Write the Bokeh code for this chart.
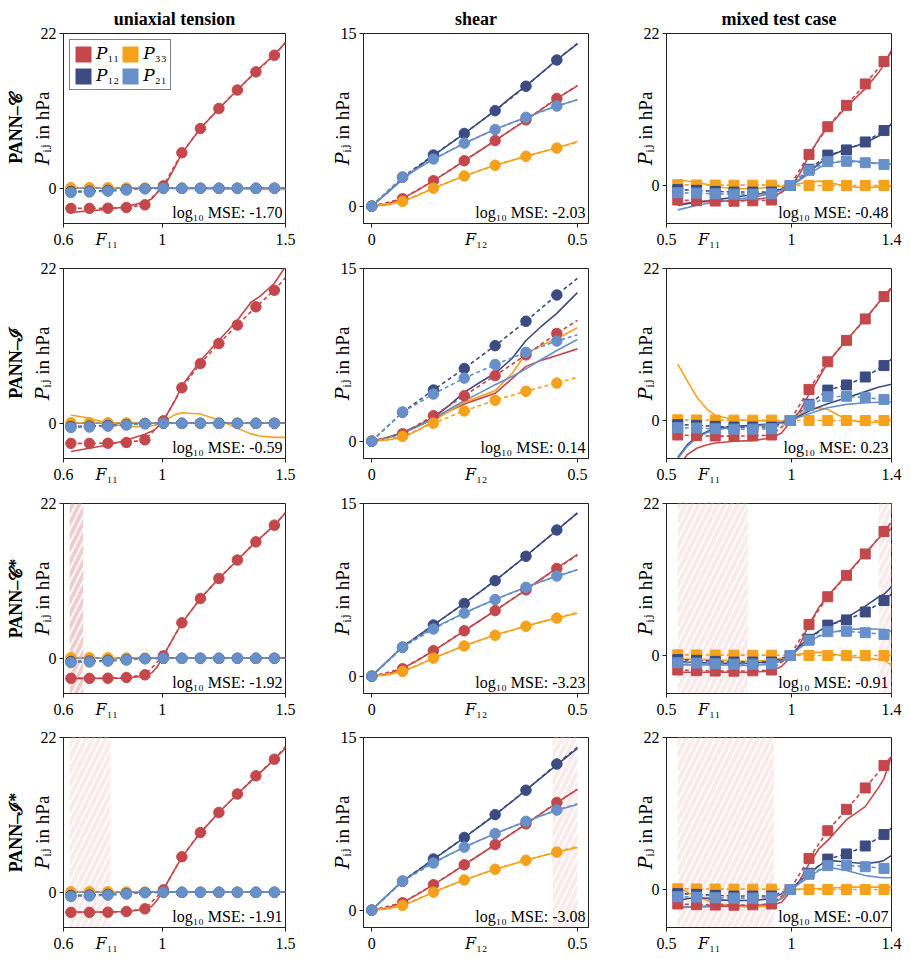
from bokeh.plotting import figure
from bokeh.layouts import gridplot
from bokeh.models import Range1d, FixedTicker, Label, Title, Legend, LegendItem
from bokeh.embed import file_html
from bokeh.resources import INLINE

FONT = "Liberation Serif, DejaVu Serif, serif"
C_P11 = "#c4484b"
C_P33 = "#f6a11b"
C_P12 = "#3c4c82"
C_P21 = "#6790cb"
SERIES_COLORS = [C_P11, C_P33, C_P12, C_P21]
NAN = float("nan")

col_titles = ["uniaxial tension", "shear", "mixed test case"]
row_labels = ["PANN–𝒞", "PANN–ℐ", "PANN–𝒞*", "PANN–ℐ*"]
legend_labels = ["𝑃₁₁", "𝑃₁₂", "𝑃₃₃", "𝑃₂₁"]

# ---------------- uniaxial tension: reference data (markers) ----------------
ut_x = [0.63, 0.705, 0.78, 0.855, 0.93, 1.005, 1.08, 1.155, 1.23, 1.305, 1.38, 1.455]
ut_xend = 1.5
ut_p11 = [-2.85, -2.85, -2.83, -2.72, -2.35, 0.35, 5.05, 8.5, 11.35, 13.97, 16.55, 18.92]
ut_p33 = [0.08, 0.08, 0.07, 0.05, 0.02, 0.0, 0.0, 0.0, 0.0, 0.0, 0.0, 0.0]
ut_p12 = [-0.45, -0.4, -0.3, -0.18, -0.04, 0.0, 0.0, 0.0, 0.0, 0.0, 0.0, 0.0]
ut_p21 = [-0.6, -0.52, -0.4, -0.24, -0.06, 0.0, 0.0, 0.0, 0.0, 0.0, 0.0, 0.0]
ut_ref_end = [20.7, 0.0, 0.0, 0.0]

# uniaxial tension: model predictions
ut_grid = [0.63, 0.705, 0.78, 0.855, 0.93, 0.96, 0.98, 1.0, 1.02, 1.05, 1.08, 1.155, 1.23, 1.305, 1.36, 1.395, 1.455, 1.5]
ut_m1_p11 = [-3.44, -3.2, -2.97, -2.6, -1.95, -1.46, -0.61, 0.1, 1.0, 2.9, 5.0, 8.5, 11.3, 14.0, 15.9, 17.1, 19.0, 20.7]
ut_m1_p33 = [0.05, 0.04, 0.03, 0.02, 0.0, 0.0, 0.0, 0.0, -0.02, -0.05, -0.07, -0.1, -0.12, -0.13, -0.14, -0.15, -0.15, -0.15]
ut_m1_p12 = [0.0, 0.0, 0.0, 0.0, 0.0, 0.0, 0.0, 0.0, 0.0, 0.0, 0.0, 0.0, 0.0, 0.0, 0.0, 0.0, 0.0, 0.0]
ut_m1_p21 = [0.02, 0.02, 0.01, 0.01, 0.0, 0.0, 0.0, 0.0, 0.0, 0.0, 0.0, 0.0, 0.0, 0.0, 0.0, 0.0, 0.0, 0.0]
ut_m2_p11 = [-4.0, -3.55, -3.07, -2.37, -1.56, -1.1, -0.6, 0.1, 1.3, 3.1, 5.3, 8.9, 11.8, 14.65, 17.2, 18.0, 19.9, 22.3]
ut_m2_p33 = [1.18, 0.71, 0.0, -0.47, -0.47, -0.35, -0.2, 0.1, 0.6, 1.2, 1.5, 1.32, 0.47, -0.71, -1.5, -1.8, -2.0, -2.0]
ut_m2_p12 = [0.0, 0.0, 0.0, 0.0, 0.0, 0.0, 0.0, 0.0, 0.0, 0.0, 0.0, 0.0, 0.0, 0.0, 0.0, 0.0, 0.0, 0.0]
ut_m2_p21 = [0.0, 0.0, 0.0, 0.0, 0.0, 0.0, 0.0, 0.0, 0.0, 0.0, 0.0, 0.0, 0.0, 0.0, 0.0, 0.0, 0.0, 0.0]
ut_m3_p11 = [-2.85, -2.85, -2.85, -2.8, -2.55, -2.0, -1.2, 0.0, 1.3, 3.2, 5.0, 8.5, 11.35, 13.95, 15.9, 17.0, 18.92, 20.67]
ut_m3_p33 = [0.02, 0.02, 0.02, 0.01, 0.0, 0.0, 0.0, 0.0, 0.0, 0.0, 0.0, 0.0, 0.0, 0.0, 0.0, 0.0, 0.0, 0.0]
ut_m3_p12 = [0.0, 0.0, 0.0, 0.0, 0.0, 0.0, 0.0, 0.0, 0.0, 0.0, 0.0, 0.0, 0.0, 0.0, 0.0, 0.0, 0.0, 0.0]
ut_m3_p21 = [0.0, 0.0, 0.0, 0.0, 0.0, 0.0, 0.0, 0.0, 0.0, 0.0, 0.0, 0.0, 0.0, 0.0, 0.0, 0.0, 0.0, 0.0]
ut_m4_p11 = [-2.8, -2.8, -2.8, -2.72, -2.45, -1.9, -1.1, 0.05, 1.35, 3.2, 5.0, 8.45, 11.38, 13.96, 15.8, 16.9, 18.9, 20.5]
ut_m4_p33 = [0.02, 0.02, 0.02, 0.01, 0.0, 0.0, 0.0, 0.0, 0.0, 0.0, 0.0, 0.0, 0.0, 0.0, 0.0, 0.0, 0.0, 0.0]
ut_m4_p12 = [0.0, 0.0, 0.0, 0.0, 0.0, 0.0, 0.0, 0.0, 0.0, 0.0, 0.0, 0.0, 0.0, 0.0, 0.0, 0.0, 0.0, 0.0]
ut_m4_p21 = [0.0, 0.0, 0.0, 0.0, 0.0, 0.0, 0.0, 0.0, 0.0, 0.0, 0.0, 0.0, 0.0, 0.0, 0.0, 0.0, 0.0, 0.0]
ut_mse = ["-1.70", "-0.59", "-1.92", "-1.91"]

# ---------------- shear: reference data ----------------
sh_x = [0.0, 0.075, 0.15, 0.225, 0.3, 0.375, 0.45]
sh_xend = 0.5
sh_p11 = [0.0, 0.65, 2.22, 3.95, 5.7, 7.5, 9.36]
sh_p33 = [0.0, 0.42, 1.57, 2.63, 3.56, 4.34, 5.05]
sh_p12 = [0.0, 2.52, 4.45, 6.32, 8.3, 10.42, 12.7]
sh_p21 = [0.0, 2.52, 4.1, 5.48, 6.66, 7.72, 8.7]
sh_ref_end = [10.5, 5.55, 14.15, 9.24]

# shear: model predictions
sh_grid = [0.0, 0.0375, 0.075, 0.1125, 0.15, 0.1875, 0.225, 0.2625, 0.3, 0.34, 0.375, 0.41, 0.45, 0.5]
sh_m1_p11 = [0.0, 0.2, 0.68, 1.4, 2.22, 3.05, 3.95, 4.82, 5.7, 6.65, 7.48, 8.35, 9.35, 10.45]
sh_m1_p33 = [0.0, 0.12, 0.42, 0.95, 1.55, 2.1, 2.62, 3.1, 3.55, 3.98, 4.33, 4.68, 5.05, 5.62]
sh_m1_p12 = [0.0, 1.15, 2.35, 3.4, 4.4, 5.35, 6.3, 7.3, 8.3, 9.5, 10.45, 11.5, 12.7, 14.1]
sh_m1_p21 = [0.0, 1.2, 2.4, 3.3, 4.05, 4.78, 5.45, 6.08, 6.68, 7.25, 7.7, 8.2, 8.7, 9.25]
sh_m2_p11 = [0.0, 0.3, 0.75, 1.3, 1.92, 2.6, 3.23, 3.7, 4.16, 5.4, 6.5, 7.0, 7.45, 8.02]
sh_m2_p33 = [0.0, 0.1, 0.32, 0.95, 1.77, 2.6, 3.37, 3.9, 4.39, 5.84, 7.59, 8.3, 8.9, 9.85]
sh_m2_p12 = [0.0, 0.3, 0.75, 1.35, 2.06, 3.1, 4.24, 5.1, 5.9, 7.15, 8.75, 9.9, 11.1, 12.9]
sh_m2_p21 = [0.0, 0.3, 0.67, 1.3, 1.98, 2.75, 3.52, 4.2, 4.91, 5.6, 6.28, 7.05, 7.88, 8.84]
sh_m3_p11 = [0.0, 0.18, 0.67, 1.4, 2.21, 3.05, 3.95, 4.82, 5.7, 6.65, 7.5, 8.4, 9.39, 10.58]
sh_m3_p33 = [0.0, 0.1, 0.41, 0.95, 1.57, 2.12, 2.65, 3.12, 3.58, 4.0, 4.36, 4.7, 5.06, 5.47]
sh_m3_p12 = [0.0, 1.3, 2.56, 3.5, 4.45, 5.4, 6.34, 7.3, 8.31, 9.45, 10.44, 11.5, 12.67, 14.19]
sh_m3_p21 = [0.0, 1.3, 2.56, 3.45, 4.16, 4.85, 5.49, 6.1, 6.66, 7.25, 7.73, 8.2, 8.69, 9.24]
sh_m4_p11 = [0.0, 0.2, 0.65, 1.4, 2.22, 3.05, 3.95, 4.82, 5.7, 6.65, 7.45, 8.35, 9.33, 10.5]
sh_m4_p33 = [0.0, 0.1, 0.4, 0.95, 1.57, 2.12, 2.63, 3.1, 3.56, 3.98, 4.34, 4.68, 5.04, 5.45]
sh_m4_p12 = [0.0, 1.3, 2.52, 3.45, 4.42, 5.35, 6.3, 7.28, 8.27, 9.42, 10.42, 11.45, 12.62, 14.06]
sh_m4_p21 = [0.0, 1.3, 2.52, 3.42, 4.12, 4.82, 5.47, 6.08, 6.65, 7.22, 7.7, 8.18, 8.68, 9.19]
sh_mse = ["-2.03", "0.14", "-3.23", "-3.08"]

# ---------------- mixed test case: reference data ----------------
mx_x = [0.545, 0.62, 0.695, 0.77, 0.845, 0.92, 0.995, 1.07, 1.145, 1.22, 1.295, 1.37]
mx_xend = 1.4
mx_p11 = [-2.1, -2.2, -2.25, -2.27, -2.22, -2.1, 0.0, 4.5, 8.5, 11.6, 14.7, 17.95]
mx_p33 = [0.1, 0.08, 0.06, 0.05, 0.05, 0.05, 0.0, 0.0, 0.0, 0.0, 0.0, 0.0]
mx_p12 = [-0.6, -0.7, -0.85, -0.95, -0.95, -0.95, 0.0, 2.35, 4.4, 5.15, 6.3, 7.95]
mx_p21 = [-1.05, -1.1, -1.2, -1.25, -1.25, -1.2, 0.0, 2.2, 3.45, 3.5, 3.3, 3.05]
mx_ref_end = [19.3, 0.0, 8.9, 3.0]

# mixed test case: model predictions
mx_grid = [0.545, 0.583, 0.623, 0.663, 0.695, 0.77, 0.845, 0.92, 0.96, 1.0, 1.033, 1.07, 1.112, 1.145, 1.22, 1.295, 1.35, 1.37, 1.4]
mx_m1_p11 = [-2.76, -2.55, -2.42, -2.36, -2.32, -2.18, -2.08, -1.69, -0.97, 0.0, 1.69, 4.35, 6.9, 8.46, 11.36, 14.02, 16.44, 17.5, 19.58]
mx_m1_p33 = [0.87, 0.65, 0.48, 0.15, -0.15, -0.48, -0.48, -0.24, -0.1, 0.0, 0.3, 0.48, 0.63, 0.5, -0.15, -0.34, -0.2, -0.15, -0.15]
mx_m1_p12 = [-2.9, -2.65, -2.4, -2.2, -2.08, -1.7, -1.35, -0.97, -0.5, 0.0, 0.9, 1.93, 3.2, 4.11, 5.32, 6.14, 7.2, 7.74, 8.95]
mx_m1_p21 = [-3.53, -3.2, -2.85, -2.6, -2.42, -2.05, -1.69, -1.21, -0.7, 0.0, 0.8, 1.69, 2.6, 3.14, 3.63, 3.38, 3.2, 3.14, 3.14]
mx_m2_p11 = [-6.8, -4.95, -3.98, -3.5, -3.25, -3.01, -2.91, -2.53, -1.8, 0.0, 1.36, 3.79, 6.3, 8.4, 11.66, 14.72, 17.1, 17.87, 19.09]
mx_m2_p33 = [8.16, 5.73, 3.3, 1.6, 0.73, 0.15, 0.0, -0.1, -0.1, 0.0, 0.87, 1.6, 1.85, 1.6, 0.15, -0.34, -0.2, -0.1, 0.15]
mx_m2_p12 = [-5.34, -3.5, -2.28, -1.6, -1.17, -0.83, -0.68, -0.49, -0.3, 0.0, 0.7, 1.36, 2.0, 2.43, 3.3, 4.18, 4.85, 5.0, 5.25]
mx_m2_p21 = [-5.54, -3.74, -2.43, -1.75, -1.31, -0.97, -0.83, -0.58, -0.35, 0.0, 0.5, 0.97, 1.5, 1.85, 2.33, 2.57, 2.65, 2.67, 2.67]
mx_m3_p11 = [-2.43, -2.43, -2.43, -2.43, -2.43, -2.43, -2.43, -2.24, -1.6, -0.15, 1.56, 4.48, 7.1, 8.61, 11.68, 14.79, 17.0, 17.62, 18.35]
mx_m3_p33 = [-0.49, -0.52, -0.56, -0.6, -0.63, -0.75, -0.88, -0.63, -0.35, 0.0, 0.2, 0.34, 0.49, 0.35, -0.15, -0.39, -0.6, -0.7, -1.36]
mx_m3_p12 = [-0.88, -0.95, -1.0, -1.08, -1.12, -1.12, -1.12, -0.88, -0.63, 0.0, 1.4, 2.53, 3.6, 4.23, 5.45, 7.15, 8.5, 8.86, 9.93]
mx_m3_p21 = [-1.36, -1.36, -1.36, -1.36, -1.36, -1.4, -1.46, -1.27, -0.88, 0.0, 1.1, 2.04, 2.8, 3.26, 3.75, 3.89, 3.8, 3.75, 3.5]
mx_m4_p11 = [-2.56, -2.52, -2.5, -2.48, -2.47, -2.47, -2.47, -2.32, -1.84, -0.15, 1.31, 3.72, 6.0, 7.11, 10.1, 12.0, 14.85, 16.05, 19.3]
mx_m4_p33 = [0.34, -0.4, -1.11, -1.6, -1.98, -2.32, -2.56, -2.32, -1.11, 0.0, 0.05, 0.1, 0.15, 0.19, 0.34, 0.34, 0.34, 0.34, 0.34]
mx_m4_p12 = [-1.6, -1.35, -1.11, -1.3, -1.5, -1.6, -1.6, -1.35, -0.63, 0.0, 1.2, 2.27, 3.5, 4.21, 3.97, 3.72, 4.0, 4.21, 4.93]
mx_m4_p21 = [-2.66, -2.55, -2.45, -2.38, -2.32, -2.32, -2.32, -2.08, -1.35, 0.0, 0.9, 1.79, 2.8, 3.24, 2.76, 2.03, 1.75, 1.69, 1.69]
mx_mse = ["-0.48", "0.23", "-0.91", "-0.07"]

# hatched (highlighted) intervals per row
ut_hatch = [[], [], [(0.625, 0.68)], [(0.625, 0.79)]]
sh_hatch = [[], [], [], [(0.44, 0.5)]]
mx_hatch = [[], [], [(0.545, 0.825), (1.35, 1.4)], [(0.545, 0.93)]]

COLS = [
    dict(xr=(0.6, 1.5), yr=(-5.0, 22.0), xt=[0.6, 1, 1.5], xl={0.6: "0.6", 1: "1", 1.5: "1.5"},
         yt=[0, 22], yl={0: "0", 22: "22"}, flab="𝐹₁₁", fx=0.775, marker="circle", msize=10.5,
         mx=ut_x, xend=ut_xend, ref=[ut_p11, ut_p33, ut_p12, ut_p21], ref_end=ut_ref_end, grid=ut_grid,
         models=[[ut_m1_p11, ut_m1_p33, ut_m1_p12, ut_m1_p21], [ut_m2_p11, ut_m2_p33, ut_m2_p12, ut_m2_p21],
                 [ut_m3_p11, ut_m3_p33, ut_m3_p12, ut_m3_p21], [ut_m4_p11, ut_m4_p33, ut_m4_p12, ut_m4_p21]],
         mse=ut_mse, hatch=ut_hatch),
    dict(xr=(-0.02, 0.527), yr=(-1.5, 15.0), xt=[0, 0.5], xl={0: "0", 0.5: "0.5"},
         yt=[0, 15], yl={0: "0", 15: "15"}, flab="𝐹₁₂", fx=0.254, marker="circle", msize=10.5,
         mx=sh_x, xend=sh_xend, ref=[sh_p11, sh_p33, sh_p12, sh_p21], ref_end=sh_ref_end, grid=sh_grid,
         models=[[sh_m1_p11, sh_m1_p33, sh_m1_p12, sh_m1_p21], [sh_m2_p11, sh_m2_p33, sh_m2_p12, sh_m2_p21],
                 [sh_m3_p11, sh_m3_p33, sh_m3_p12, sh_m3_p21], [sh_m4_p11, sh_m4_p33, sh_m4_p12, sh_m4_p21]],
         mse=sh_mse, hatch=sh_hatch),
    dict(xr=(0.5, 1.4), yr=(-5.5, 22.0), xt=[0.5, 1, 1.4], xl={0.5: "0.5", 1: "1", 1.4: "1.4"},
         yt=[0, 22], yl={0: "0", 22: "22"}, flab="𝐹₁₁", fx=0.671, marker="square", msize=10,
         mx=mx_x, xend=mx_xend, ref=[mx_p11, mx_p33, mx_p12, mx_p21], ref_end=mx_ref_end, grid=mx_grid,
         models=[[mx_m1_p11, mx_m1_p33, mx_m1_p12, mx_m1_p21], [mx_m2_p11, mx_m2_p33, mx_m2_p12, mx_m2_p21],
                 [mx_m3_p11, mx_m3_p33, mx_m3_p12, mx_m3_p21], [mx_m4_p11, mx_m4_p33, mx_m4_p12, mx_m4_p21]],
         mse=mx_mse, hatch=mx_hatch),
]

WIDTHS = [300, 300, 310]
BORDER_LR = [(60, 15), (63, 12), (66, 19)]
HEIGHTS = [250, 235, 235, 239]
BORDER_TB = [(33, 27), (18, 27), (18, 27), (17, 32)]


def style_axis(ax):
    ax.axis_line_color = "#222222"
    ax.major_tick_line_color = "#222222"
    ax.major_tick_in = 0
    ax.major_tick_out = 4
    ax.minor_tick_line_color = None
    ax.major_label_text_font = FONT
    ax.major_label_text_font_size = "16px"
    ax.major_label_text_color = "black"
    ax.major_label_standoff = 3


def make_panel(ci, ri):
    c = COLS[ci]
    lb, rb = BORDER_LR[ci]
    tb, bb = BORDER_TB[ri]
    p = figure(width=WIDTHS[ci], height=HEIGHTS[ri],
               x_range=Range1d(*c["xr"]), y_range=Range1d(*c["yr"]),
               output_backend="svg", toolbar_location=None, tools="",
               title=col_titles[ci] if ri == 0 else None,
               min_border_left=lb, min_border_right=rb, min_border_top=tb, min_border_bottom=bb)
    p.grid.visible = False
    p.outline_line_color = "#222222"
    p.outline_line_width = 1
    p.background_fill_color = "white"
    p.border_fill_color = "white"

    # hatched regions
    strong = (ci == 0 and ri == 2)
    for (a, b) in c["hatch"][ri]:
        p.quad(left=[a], right=[b], bottom=[c["yr"][0]], top=[c["yr"][1]],
               fill_alpha=0, line_color=None, hatch_pattern="/",
               hatch_color="#f1cccc" if strong else "#faeaea",
               hatch_weight=4, hatch_scale=13)

    models = c["models"][ri]
    for ys, col in zip(models, SERIES_COLORS):
        p.line(x=c["grid"], y=ys, line_color=col, line_width=1.6)
    for ys, yend, col in zip(c["ref"], c["ref_end"], SERIES_COLORS):
        p.line(x=c["mx"] + [c["xend"]], y=ys + [yend], line_color=col, line_width=1.6, line_dash="4 3")
    for ys, col in zip(c["ref"], SERIES_COLORS):
        p.scatter(x=c["mx"], y=ys, marker=c["marker"], size=c["msize"], fill_color=col, line_color=col)

    # x axis: labels at the numeric ticks and at the variable name;
    # visible tick marks only at the numeric ticks (drawn as minor ticks)
    xa = p.xaxis[0]
    style_axis(xa)
    overrides = dict(c["xl"])
    overrides[c["fx"]] = c["flab"]
    xa.ticker = FixedTicker(ticks=sorted(c["xt"] + [c["fx"]]), minor_ticks=c["xt"])
    xa.major_label_overrides = overrides
    xa.major_tick_line_color = None
    xa.minor_tick_line_color = "#222222"
    xa.minor_tick_in = 0
    xa.minor_tick_out = 4

    ya = p.yaxis[0]
    style_axis(ya)
    ya.ticker = FixedTicker(ticks=c["yt"])
    ya.major_label_overrides = c["yl"]
    ya.axis_label = "𝑃ᵢⱼ in hPa"
    ya.axis_label_text_font = FONT
    ya.axis_label_text_font_size = "19px"
    ya.axis_label_text_font_style = "normal"
    ya.axis_label_text_color = "black"
    ya.axis_label_standoff = -15

    # MSE annotation
    p.add_layout(Label(x=c["xr"][1], y=c["yr"][0], text="log₁₀ MSE: " + c["mse"][ri],
                       text_align="right", text_baseline="bottom", x_offset=-3, y_offset=3,
                       text_font=FONT, text_font_size="16px", text_color="black"))

    if ri == 0:
        p.title.align = "center"
        p.title.vertical_align = "top"
        p.title.text_font = FONT
        p.title.text_font_size = "18px"
        p.title.text_font_style = "bold"
        p.title.text_color = "black"
        p.title.standoff = 6
    if ci == 0:
        p.add_layout(Title(text=row_labels[ri], align="center", text_font=FONT, text_color="black",
                           text_font_size="18px", text_font_style="bold", standoff=6), "left")
    if ci == 0 and ri == 0:
        items = []
        for lab, col in zip(legend_labels, [C_P11, C_P12, C_P33, C_P21]):
            r = p.quad(left=[NAN], right=[NAN], top=[NAN], bottom=[NAN], fill_color=col, line_color=None)
            items.append(LegendItem(label=lab, renderers=[r]))
        leg = Legend(items=items, location="top_left", ncols=2, orientation="vertical",
                     border_line_color="black", border_line_width=1, background_fill_alpha=1,
                     label_text_font=FONT, label_text_font_size="17px", label_text_color="black",
                     glyph_width=20, glyph_height=20, label_height=20, label_standoff=3,
                     spacing=1, padding=3, margin=6)
        p.add_layout(leg)
    return p


grid = [[make_panel(ci, ri) for ci in range(3)] for ri in range(4)]
layout = gridplot(grid, toolbar_location=None)

open("out.html", "w").write(file_html(layout, INLINE))
